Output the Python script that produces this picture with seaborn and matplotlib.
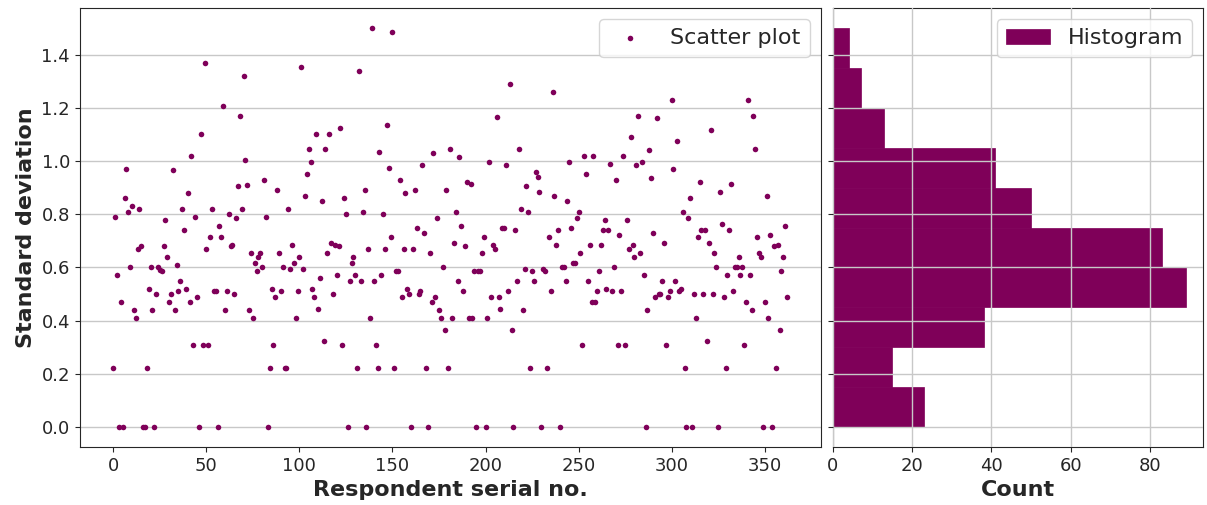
import numpy as np
import matplotlib
matplotlib.use("Agg")
import matplotlib.pyplot as plt
import seaborn as sns

# standardni odchylky odpovedi, po respondentech
std_a = [0.22, 0.79, 0.57, 0.0, 0.47, 0.0, 0.86, 0.97, 0.81, 0.60, 0.83, 0.44, 0.41, 0.67, 0.82, 0.68, 0.0, 0.0, 0.22, 0.52,
         0.60, 0.44, 0.0, 0.50, 0.60, 0.59, 0.585, 0.68, 0.78, 0.64, 0.47, 0.50, 0.965, 0.44, 0.61, 0.51, 0.55, 0.82, 0.74, 0.52,
         0.88, 0.47, 1.02, 0.31, 0.79, 0.49, 0.0, 1.10, 0.31, 1.37, 0.67, 0.31, 0.715, 0.82, 0.51, 0.51, 0.0, 0.755, 0.715, 1.205]
std_b = [0.44, 0.51, 0.80, 0.68, 0.685, 0.50, 0.785, 0.907, 1.17, 0.82, 1.32, 1.005, 0.91, 0.44, 0.655, 0.41, 0.615, 0.585, 0.64, 0.655,
         0.60, 0.93, 0.79, 0.0, 0.22, 0.52, 0.31, 0.49, 0.89, 0.655, 0.51, 0.60, 0.22, 0.22, 0.82, 0.595, 0.685, 0.615, 0.41, 0.51,
         0.64, 1.355, 0.595, 0.87, 0.95, 1.045, 0.995, 0.52, 0.49, 1.10, 0.445, 0.56, 0.85, 0.325, 1.045, 0.655, 1.10, 0.69, 0.50, 0.685, 0.57]
std_c = [0.68, 1.125, 0.31, 0.86, 0.80, 0.0, 0.55, 0.615, 0.64, 0.57, 0.22, 1.34, 0.55, 0.81, 0.89, 0.0, 0.67, 0.41, 1.50, 0.55,
         0.31, 0.22, 1.035, 0.57, 0.80, 0.67, 1.135, 0.975, 0.715, 1.485, 0.22, 0.585, 0.585, 0.93, 0.49, 0.67, 0.88, 0.52, 0.50, 0.0,
         0.67, 0.89, 0.75, 0.50, 0.51, 0.985, 0.73, 0.22, 0.0, 0.655, 0.47, 1.03, 0.49, 0.785, 0.44, 0.41, 0.60, 0.365, 0.89,
         0.22, 1.045, 0.41]
std_d = [0.69, 0.81, 0.55, 1.015, 0.755, 0.51, 0.68, 0.92, 0.41, 0.915, 0.41, 0.585, 0.0, 0.585, 0.585, 0.655, 0.715, 0.0, 0.41,
         0.995, 0.49, 0.685, 0.67, 1.165, 0.49, 0.445, 0.75, 0.75, 0.985, 0.51, 1.29, 0.365, 0.0, 0.74, 0.55, 1.045, 0.82, 0.44, 0.595,
         0.905, 0.81, 0.22, 0.585, 0.55, 0.96, 0.94, 0.885, 0.0, 0.595, 0.585, 0.22, 0.715, 0.51, 1.26, 0.87, 0.685, 0.74, 0.0, 0.60,
         0.60, 0.55, 0.85, 0.995]
std_e = [0.75, 0.615, 0.615, 0.785, 0.81, 0.655, 0.31, 1.02, 0.95, 0.55, 0.685, 0.47, 1.02, 0.47, 0.51, 0.585, 0.685, 0.74, 0.78, 0.52,
         0.74, 0.99, 0.51, 0.60, 0.93, 0.31, 0.72, 0.51, 1.02, 0.31, 0.78, 0.67, 1.09, 0.685, 0.64, 0.985, 1.17, 0.655, 0.995, 0.57,
         0.0, 0.44, 1.04, 0.935, 0.73, 0.49, 1.16, 0.50, 0.50, 0.55, 0.69, 0.31, 0.49, 0.51, 1.23, 0.97, 0.55, 1.075, 0.51, 0.52,
         0.81, 0.22]
std_f = [0.0, 0.785, 0.86, 0.0, 0.50, 0.41, 0.715, 0.92, 0.74, 0.50, 0.74, 0.325, 0.69, 1.115, 0.50, 0.655, 0.60, 0.0, 0.885, 0.765,
         0.49, 0.22, 0.57, 0.74, 0.915, 0.51, 0.60, 0.60, 0.64, 0.57, 0.60, 0.31, 0.47, 1.23, 0.57, 0.44, 1.17, 1.045, 0.715, 0.655,
         0.64, 0.0, 0.47, 0.87, 0.41, 0.72, 0.0, 0.68, 0.22, 0.685, 0.365, 0.585, 0.64, 0.755, 0.49]

std_dev = np.array(std_a + std_b + std_c + std_d + std_e + std_f)
serial = np.arange(len(std_dev))

COLOR = "#7f0059"

sns.set_style("ticks")
plt.rcParams["font.family"] = ["DejaVu Sans"]

fig = plt.figure(figsize=(12.07, 5.05), dpi=100)
gs = fig.add_gridspec(1, 2, width_ratios=[2, 1], wspace=0.022,
                      left=0.066, right=0.997, top=0.984, bottom=0.115)
ax1 = fig.add_subplot(gs[0])
ax2 = fig.add_subplot(gs[1], sharey=ax1)

# bodovy graf
sns.scatterplot(x=serial, y=std_dev, color=COLOR, s=16, linewidth=0, label="Scatter plot", ax=ax1)
ax1.grid(axis="y", color="#c8c8c8", linewidth=1)
ax1.set_xlabel("Respondent serial no.", fontsize=16, fontweight="bold")
ax1.set_ylabel("Standard deviation", fontsize=16, fontweight="bold")
ax1.tick_params(labelsize=13)
ax1.legend(loc="upper right", fontsize=16)

# histogram
sns.histplot(y=std_dev, bins=10, binrange=(0, 1.5), color=COLOR, alpha=1, edgecolor=COLOR,
             linewidth=0.5, label="Histogram", ax=ax2)
ax2.set_axisbelow(False)
ax2.grid(True, color="#c8c8c8", linewidth=1)
ax2.set_xlabel("Count", fontsize=16, fontweight="bold")
ax2.set_ylabel("")
ax2.tick_params(labelsize=13, labelleft=False)
ax2.legend(loc="upper right", fontsize=16)

for ax in (ax1, ax2):
    for sp in ax.spines.values():
        sp.set_visible(True)

fig.savefig("out.png", dpi=100)
